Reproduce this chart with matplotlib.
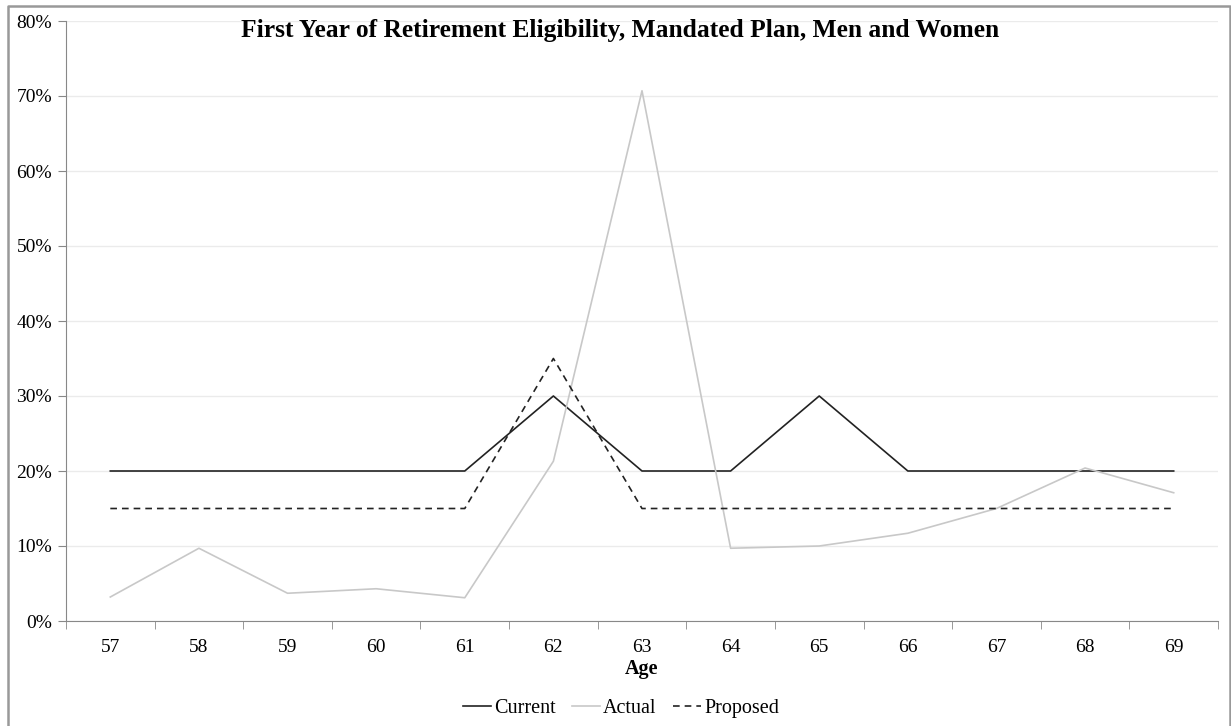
import numpy as np
import matplotlib.pyplot as plt
from matplotlib.lines import Line2D
from matplotlib.ticker import FixedLocator, PercentFormatter

plt.rcParams['font.family'] = ['Liberation Serif', 'DejaVu Serif']

ages = [57, 58, 59, 60, 61, 62, 63, 64, 65, 66, 67, 68, 69]
current = [20, 20, 20, 20, 20, 30, 20, 20, 30, 20, 20, 20, 20]
actual = [3.2, 9.7, 3.7, 4.3, 3.1, 21.3, 70.7, 9.7, 10.0, 11.7, 15.0, 20.4, 17.1]
proposed = [15, 15, 15, 15, 15, 35, 15, 15, 15, 15, 15, 15, 15]

W, H = 1231, 726
fig = plt.figure(figsize=(W / 100, H / 100), dpi=100)
ax = fig.add_axes([66 / W, 1 - 621 / H, (1218 - 66) / W, 600 / H])

x = np.arange(len(ages))
ax.plot(x, current, color='#222222', lw=1.2, label='Current')
ax.plot(x, actual, color='#c8c8c8', lw=1.2, label='Actual')
ax.plot(x, proposed, color='#222222', lw=1.2, ls=(0, (4, 3)), label='Proposed')

ax.set_xlim(-0.5, len(ages) - 0.5)
ax.set_ylim(0, 80)
ax.set_xticks(x)
ax.set_xticklabels([str(a) for a in ages], fontsize=14)
ax.xaxis.set_minor_locator(FixedLocator(np.arange(-0.5, len(ages), 1)))
ax.tick_params(axis='x', which='major', length=0, pad=13)
ax.tick_params(axis='x', which='minor', length=6, color='#888888', direction='out')
ax.set_yticks(np.arange(0, 81, 10))
ax.yaxis.set_major_formatter(PercentFormatter(decimals=0))
ax.tick_params(axis='y', length=6, color='#888888', labelsize=14, pad=4)
ax.grid(axis='y', color='#ebebeb', lw=1)
ax.set_axisbelow(True)
for s in ['top', 'right']:
    ax.spines[s].set_visible(False)
for s in ['left', 'bottom']:
    ax.spines[s].set_color('#888888')

ax.set_xlabel('Age', fontsize=14.5, fontweight='bold', labelpad=2)
fig.text(620 / W, 1 - 30 / H, 'First Year of Retirement Eligibility, Mandated Plan, Men and Women',
         ha='center', va='center', fontsize=18.4, fontweight='bold')

fig.legend(loc='center', bbox_to_anchor=(621 / W, 1 - 708 / H), ncol=3, frameon=False,
           fontsize=14.5, handlelength=1.4, handletextpad=0.15, columnspacing=0.8)

# chart frame (left, top, right)
fx = [8 / W, 8 / W, 1230 / W, 1230 / W]
fy = [-0.01, 1 - 6 / H, 1 - 6 / H, -0.01]
fig.add_artist(Line2D(fx, fy, transform=fig.transFigure, color='#999999', lw=1.8))

fig.savefig('out.png', dpi=100)
